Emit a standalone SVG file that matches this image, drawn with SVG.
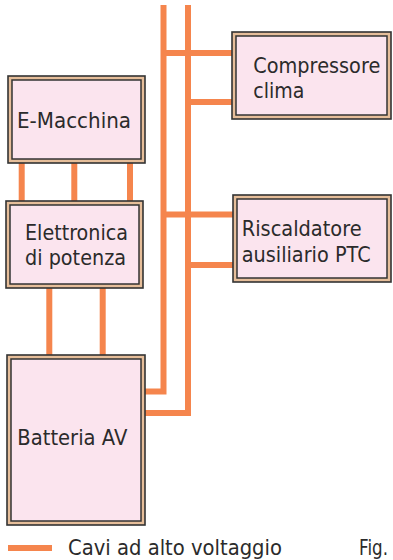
<svg xmlns="http://www.w3.org/2000/svg" width="393" height="560" viewBox="0 0 393 560">
<style>
.frame{fill:#E6BE9A;stroke:#333333;stroke-width:1.6}
.inner{fill:#FBE4EE;stroke:#333333;stroke-width:1.5}
.cable{fill:none;stroke:#F5854D;stroke-width:6;stroke-linejoin:miter}
.lbl{font-family:"DejaVu Sans",sans-serif;font-size:20.5px;fill:#2b2b2b}
</style>
<rect width="393" height="560" fill="#ffffff"/>
<g id="connectors">
<path class="cable" d="M163.5,5 V391.5 H145"/>
<path class="cable" d="M188,5 V413 H145"/>
<path class="cable" d="M163.5,53 H232"/>
<path class="cable" d="M188,102 H232"/>
<path class="cable" d="M163.5,214.5 H233"/>
<path class="cable" d="M188,265 H233"/>
<path class="cable" d="M21.7,163 V201"/>
<path class="cable" d="M74.3,163 V201"/>
<path class="cable" d="M130,163 V201"/>
<path class="cable" d="M49.3,288 V355"/>
<path class="cable" d="M102.7,288 V355"/>
</g>
<g id="e-macchina">
<rect class="frame" x="8" y="76" width="137" height="87"/>
<rect class="inner" x="12" y="80" width="129" height="79"/>
<text class="lbl" x="17" y="127.5" textLength="114" lengthAdjust="spacingAndGlyphs">E-Macchina</text>
</g>
<g id="elettronica">
<rect class="frame" x="6" y="201" width="137" height="87"/>
<rect class="inner" x="10" y="205" width="129" height="79"/>
<text class="lbl" x="25" y="240" textLength="103" lengthAdjust="spacingAndGlyphs">Elettronica</text>
<text class="lbl" x="25" y="265" textLength="101" lengthAdjust="spacingAndGlyphs">di potenza</text>
</g>
<g id="batteria">
<rect class="frame" x="7" y="355" width="138" height="170"/>
<rect class="inner" x="11" y="359" width="130" height="162"/>
<text class="lbl" x="17.3" y="445" textLength="110" lengthAdjust="spacingAndGlyphs">Batteria AV</text>
</g>
<g id="compressore">
<rect class="frame" x="232" y="32" width="159" height="87"/>
<rect class="inner" x="236" y="36" width="151" height="79"/>
<text class="lbl" x="253.3" y="73.3" textLength="127" lengthAdjust="spacingAndGlyphs">Compressore</text>
<text class="lbl" x="253.3" y="97.7" textLength="51" lengthAdjust="spacingAndGlyphs">clima</text>
</g>
<g id="riscaldatore">
<rect class="frame" x="233" y="195" width="158" height="87"/>
<rect class="inner" x="237" y="199" width="150" height="79"/>
<text class="lbl" x="241.7" y="235.7" textLength="120" lengthAdjust="spacingAndGlyphs">Riscaldatore</text>
<text class="lbl" x="241.7" y="261.7" textLength="129" lengthAdjust="spacingAndGlyphs">ausiliario PTC</text>
</g>
<g id="legend">
<path class="cable" d="M8,548 H52"/>
<text class="lbl" x="68" y="554.5" textLength="214" lengthAdjust="spacingAndGlyphs">Cavi ad alto voltaggio</text>
<text class="lbl" x="359" y="554.5" textLength="29" lengthAdjust="spacingAndGlyphs">Fig.</text>
</g>
</svg>
